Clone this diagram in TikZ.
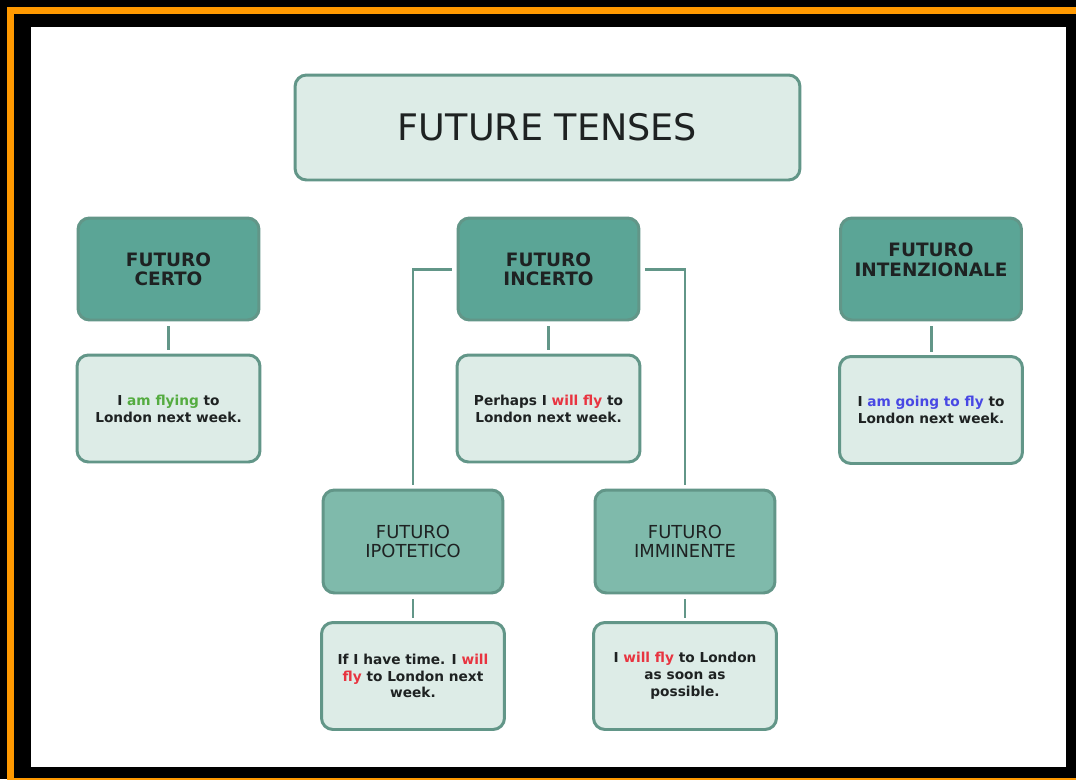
\documentclass[tikz,border=0pt]{standalone}
\usepackage{fontspec}
\setmainfont{DejaVu Sans}
\usepackage{xcolor}
\usepackage{tikz}
\usetikzlibrary{calc}
\definecolor{Cornice}{RGB}{255,153,0}
\definecolor{VerdeScuro}{RGB}{91,165,150}
\definecolor{VerdeMedio}{RGB}{127,186,171}
\definecolor{VerdeChiaro}{RGB}{221,236,231}
\definecolor{Bordo}{RGB}{98,150,136}
\definecolor{RossoVerbo}{RGB}{232,52,64}
\definecolor{VerdeVerbo}{RGB}{84,172,64}
\definecolor{BluVerbo}{RGB}{72,72,228}
\definecolor{Testo}{RGB}{30,34,34}

\begin{document}
\begin{tikzpicture}[x=0.02cm,y=-0.02cm,
  box/.style={draw=Bordo,line width=1.7pt,rounded corners=6.5pt,inner sep=0pt,align=center,text=Testo},
  titolo/.style={box,fill=VerdeChiaro,minimum width=10.1cm,minimum height=2.1cm,font=\fontsize{20.8}{25}\selectfont},
  tempo/.style={box,fill=VerdeScuro,minimum width=3.62cm,minimum height=2.04cm,font=\bfseries\fontsize{10.5}{10.8}\selectfont},
  sottotempo/.style={box,fill=VerdeMedio,minimum width=3.6cm,minimum height=2.06cm,font=\fontsize{10.2}{10.8}\selectfont},
  esempio/.style={box,fill=VerdeChiaro,minimum width=3.66cm,minimum height=2.14cm,font=\bfseries\fontsize{7.8}{9.6}\selectfont},
  link/.style={draw=Bordo,line width=1.7pt,shorten <=2.8pt,shorten >=1.8pt}]
  \useasboundingbox (0,0) rectangle (1076,779);
  \fill[black] (0,0) rectangle (1076,779);
  \draw[Cornice,line width=0.14cm] (10.5,10.5) rectangle (1100,781);
  \fill[white] (31,27) rectangle (1066,767);

  \node[titolo] (titolo) at (547.5,127.5) {FUTURE TENSES};

  \node[tempo] (certo) at (168.5,269) {FUTURO\\CERTO};
  \node[tempo] (incerto) at (548.5,269) {FUTURO\\INCERTO};
  \node[tempo] (intenzionale) at (931,269) {\raisebox{1pt}[0pt][0pt]{\begin{tabular}{@{}c@{}}FUTURO\\INTENZIONALE\end{tabular}}};

  \node[esempio] (es-certo) at (168.5,408.5) {I {\color{VerdeVerbo}am flying} to\\London next week.};
  \node[esempio] (es-incerto) at (548.5,408.5) {Perhaps I {\color{RossoVerbo}will fly} to\\London next week.};
  \node[esempio] (es-intenzionale) at (931,410) {I {\color{BluVerbo}am going to fly} to\\London next week.};

  \node[sottotempo] (ipotetico) at (413,541.5) {FUTURO\\IPOTETICO};
  \node[sottotempo] (imminente) at (685,541.5) {FUTURO\\IMMINENTE};

  \node[esempio] (es-ipotetico) at (413,676) {If I have time. I {\color{RossoVerbo}will}\\{\color{RossoVerbo}fly} to London next\\week.};
  \node[esempio] (es-imminente) at (685,676) {I {\color{RossoVerbo}will fly} to London\\as soon as\\possible.};

  \draw[link] (certo.south) -- (es-certo.north);
  \draw[link] (incerto.south) -- (es-incerto.north);
  \draw[link] (intenzionale.south) -- (es-intenzionale.north);
  \draw[link] (incerto.west) -| (ipotetico.north);
  \draw[link] (incerto.east) -| (imminente.north);
  \draw[link] (ipotetico.south) -- (es-ipotetico.north);
  \draw[link] (imminente.south) -- (es-imminente.north);
\end{tikzpicture}
\end{document}
